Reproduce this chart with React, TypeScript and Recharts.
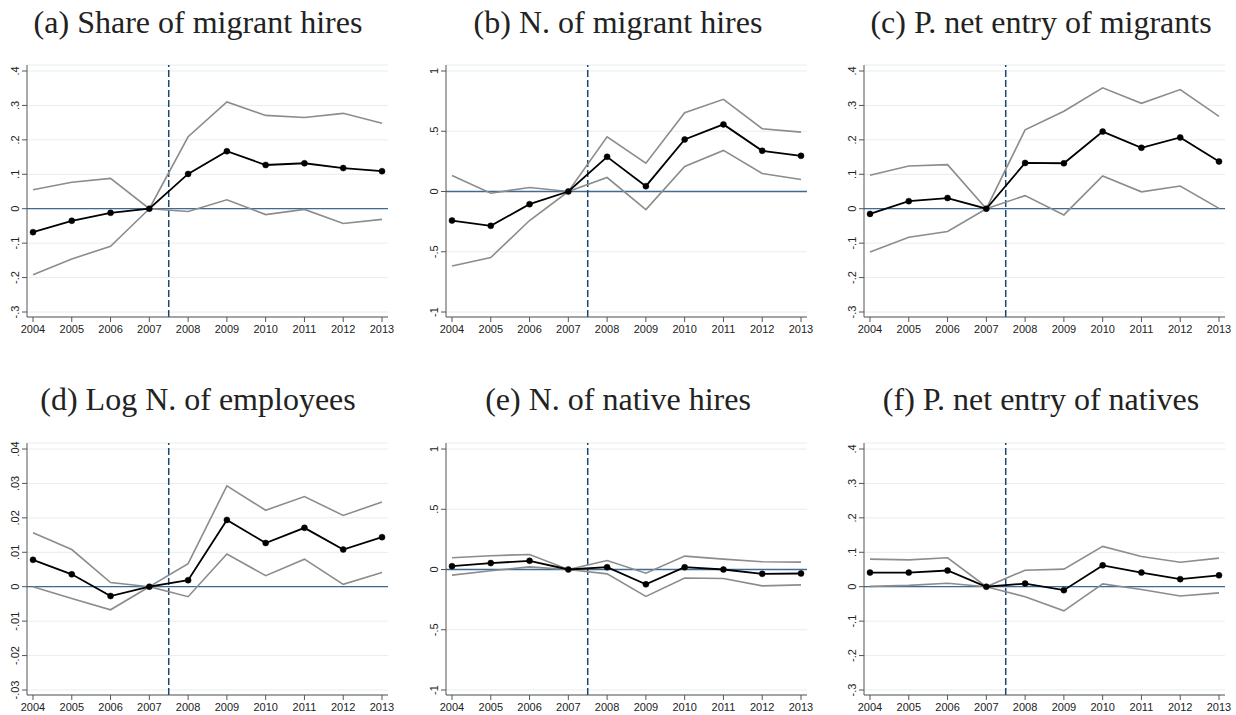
import React from "react";
import { LineChart, Line, XAxis, YAxis, CartesianGrid, ReferenceLine } from "recharts";

const years = [2004, 2005, 2006, 2007, 2008, 2009, 2010, 2011, 2012, 2013];

// (a) Share of migrant hires
const aMean = [-0.068, -0.035, -0.012, 0, 0.101, 0.167, 0.127, 0.132, 0.118, 0.109];
const aUpper = [0.055, 0.077, 0.088, 0, 0.209, 0.31, 0.271, 0.265, 0.277, 0.248];
const aLower = [-0.192, -0.146, -0.109, 0, -0.008, 0.026, -0.017, -0.002, -0.043, -0.031];

// (b) N. of migrant hires
const bMean = [-0.241, -0.285, -0.105, 0, 0.288, 0.044, 0.432, 0.557, 0.338, 0.296];
const bUpper = [0.133, -0.014, 0.033, 0, 0.454, 0.235, 0.654, 0.765, 0.521, 0.493];
const bLower = [-0.618, -0.548, -0.241, 0, 0.116, -0.15, 0.208, 0.341, 0.15, 0.1];

// (c) P. net entry of migrants
const cMean = [-0.015, 0.022, 0.031, 0, 0.133, 0.132, 0.224, 0.177, 0.207, 0.137];
const cUpper = [0.097, 0.124, 0.128, 0, 0.229, 0.283, 0.351, 0.306, 0.346, 0.268];
const cLower = [-0.126, -0.083, -0.066, 0, 0.038, -0.018, 0.095, 0.049, 0.066, 0.001];

// (d) Log N. of employees
const dMean = [0.0078, 0.0036, -0.0027, 0, 0.0019, 0.0194, 0.0127, 0.0171, 0.0108, 0.0144];
const dUpper = [0.0157, 0.0108, 0.0012, 0, 0.0067, 0.0293, 0.0222, 0.0262, 0.0207, 0.0246];
const dLower = [0.0, -0.0034, -0.0067, 0, -0.0029, 0.0095, 0.0032, 0.008, 0.0007, 0.0041];

// (e) N. of native hires
const eMean = [0.028, 0.053, 0.072, 0, 0.019, -0.123, 0.019, 0.0, -0.036, -0.033];
const eUpper = [0.097, 0.114, 0.125, 0, 0.075, -0.031, 0.111, 0.086, 0.064, 0.061];
const eLower = [-0.047, -0.011, 0.022, 0, -0.036, -0.223, -0.07, -0.075, -0.136, -0.128];

// (f) P. net entry of natives
const fMean = [0.041, 0.041, 0.047, 0, 0.009, -0.01, 0.062, 0.041, 0.022, 0.033];
const fUpper = [0.08, 0.078, 0.084, 0, 0.048, 0.051, 0.117, 0.088, 0.071, 0.083];
const fLower = [0.001, 0.004, 0.01, 0, -0.029, -0.07, 0.008, -0.008, -0.027, -0.018];

const ticksPt1 = [-0.3, -0.2, -0.1, 0, 0.1, 0.2, 0.3, 0.4];
const labelsPt1 = ["-.3", "-.2", "-.1", "0", ".1", ".2", ".3", ".4"];
const ticksOne = [-1, -0.5, 0, 0.5, 1];
const labelsOne = ["-1", "-.5", "0", ".5", "1"];
const ticksPt01 = [-0.03, -0.02, -0.01, 0, 0.01, 0.02, 0.03, 0.04];
const labelsPt01 = ["-.03", "-.02", "-.01", "0", ".01", ".02", ".03", ".04"];

const titles = [
  "(a) Share of migrant hires",
  "(b) N. of migrant hires",
  "(c) P. net entry of migrants",
  "(d) Log N. of employees",
  "(e) N. of native hires",
  "(f) P. net entry of natives",
];

type Panel = {
  mean: number[];
  upper: number[];
  lower: number[];
  ticks: number[];
  labels: string[];
};

const panels: Panel[] = [
  { mean: aMean, upper: aUpper, lower: aLower, ticks: ticksPt1, labels: labelsPt1 },
  { mean: bMean, upper: bUpper, lower: bLower, ticks: ticksOne, labels: labelsOne },
  { mean: cMean, upper: cUpper, lower: cLower, ticks: ticksPt1, labels: labelsPt1 },
  { mean: dMean, upper: dUpper, lower: dLower, ticks: ticksPt01, labels: labelsPt01 },
  { mean: eMean, upper: eUpper, lower: eLower, ticks: ticksOne, labels: labelsOne },
  { mean: fMean, upper: fUpper, lower: fLower, ticks: ticksPt1, labels: labelsPt1 },
];

const PLOT_W = 361;
const PLOT_H = 252;
const Y_AXIS_W = 26;
const X_AXIS_H = 25;
const TOP_PAD = 12;
const COL_STEP = 418.7;
const ROW_STEP = 378;
const AXIS_X0 = 27;
const PLOT_TOP0 = 65;
const titleCenters = [198, 618, 1041];
const titleBaselines = [33, 410];

const TICK_FONT = "'Liberation Sans', Arial, sans-serif";

const makeYTick = (ticks: number[], labels: string[]) => (props: any) => {
  const { x, y, payload } = props;
  const idx = ticks.findIndex((t) => Math.abs(t - payload.value) < 1e-9);
  const label = idx >= 0 ? labels[idx] : String(payload.value);
  return (
    <text
      x={x}
      y={y}
      transform={`rotate(-90 ${x} ${y})`}
      textAnchor="middle"
      fontSize={11}
      fontFamily={TICK_FONT}
      fill="#222"
    >
      {label}
    </text>
  );
};

const XTick = (props: any) => {
  const { x, y, payload } = props;
  return (
    <text x={x} y={y} dy={9} textAnchor="middle" fontSize={11} fontFamily={TICK_FONT} fill="#222">
      {payload.value}
    </text>
  );
};

function PanelChart({ p, col, row }: { p: Panel; col: number; row: number }) {
  const data = years.map((yr, i) => ({ year: yr, mean: p.mean[i], upper: p.upper[i], lower: p.lower[i] }));
  const axisX = AXIS_X0 + col * COL_STEP;
  const top = PLOT_TOP0 + row * ROW_STEP - TOP_PAD;
  const left = axisX - Y_AXIS_W;
  const dom: [number, number] = [p.ticks[0], p.ticks[p.ticks.length - 1]];
  return (
    <div style={{ position: "absolute", left, top }}>
      <LineChart
        width={Y_AXIS_W + PLOT_W + 10}
        height={TOP_PAD + PLOT_H + X_AXIS_H}
        data={data}
        margin={{ top: TOP_PAD, right: 10, bottom: 0, left: 0 }}
      >
        <CartesianGrid horizontal vertical={false} stroke="#e6eef0" strokeWidth={1} />
        <XAxis
          dataKey="year"
          type="number"
          domain={[2004, 2013]}
          ticks={years}
          interval={0}
          padding={{ left: 6, right: 6 }}
          height={X_AXIS_H}
          stroke="#555"
          tickLine={{ stroke: "#555" }}
          tickSize={5}
          tickMargin={2}
          tick={<XTick />}
        />
        <YAxis
          type="number"
          domain={dom}
          ticks={p.ticks}
          interval={0}
          allowDataOverflow
          padding={{ top: 6, bottom: 5 }}
          width={Y_AXIS_W}
          stroke="#555"
          tickLine={{ stroke: "#555" }}
          tickSize={5}
          tickMargin={3}
          tick={makeYTick(p.ticks, p.labels)}
        />
        <ReferenceLine y={0} stroke="#3f6a92" strokeWidth={1.3} ifOverflow="extendDomain" />
        <ReferenceLine x={2007.5} stroke="#1a476f" strokeWidth={1.5} strokeDasharray="7 3" />
        <Line
          dataKey="upper"
          stroke="#8c8c8c"
          strokeWidth={1.6}
          dot={false}
          isAnimationActive={false}
          type="linear"
        />
        <Line
          dataKey="lower"
          stroke="#8c8c8c"
          strokeWidth={1.6}
          dot={false}
          isAnimationActive={false}
          type="linear"
        />
        <Line
          dataKey="mean"
          stroke="#000"
          strokeWidth={1.8}
          dot={{ r: 3, fill: "#000", stroke: "#000", strokeWidth: 0.5 }}
          isAnimationActive={false}
          type="linear"
        />
      </LineChart>
    </div>
  );
}

export default function App() {
  return (
    <div
      style={{
        position: "absolute",
        left: 0,
        top: 0,
        width: 1236,
        height: 715,
        background: "#fff",
        overflow: "hidden",
      }}
    >
      {panels.map((p, i) => (
        <PanelChart key={i} p={p} col={i % 3} row={Math.floor(i / 3)} />
      ))}
      <svg
        width={1236}
        height={715}
        style={{ position: "absolute", left: 0, top: 0, pointerEvents: "none" }}
      >
        {titles.map((t, i) => (
          <text
            key={i}
            x={titleCenters[i % 3]}
            y={titleBaselines[Math.floor(i / 3)]}
            textAnchor="middle"
            fontSize={32}
            fontFamily="'Liberation Serif', 'Times New Roman', serif"
            fill="#222"
          >
            {t}
          </text>
        ))}
      </svg>
    </div>
  );
}
